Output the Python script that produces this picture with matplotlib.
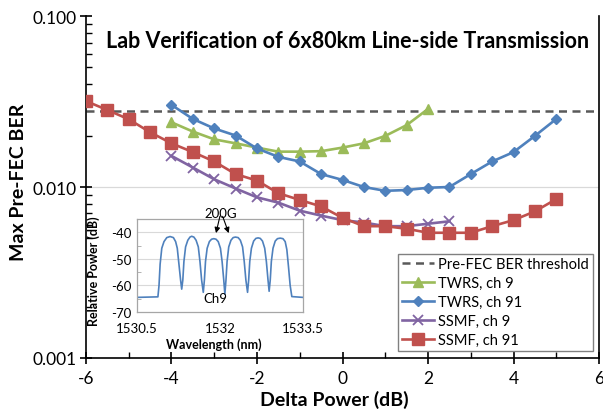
import matplotlib
matplotlib.use("Agg")
import matplotlib.pyplot as plt
from matplotlib.ticker import FixedLocator, NullFormatter, LogLocator, MultipleLocator

plt.rcParams['font.family'] = ['Lato', 'DejaVu Sans']

# ---------------- data ----------------
threshold = 0.028

twrs9_x = [-4, -3.5, -3, -2.5, -2, -1.5, -1, -0.5, 0, 0.5, 1, 1.5, 2]
twrs9_y = [0.0239, 0.0211, 0.0190, 0.0180, 0.0170, 0.0161, 0.0161, 0.0162, 0.0170,
           0.0180, 0.0199, 0.0230, 0.0286]

twrs91_x = [-4, -3.5, -3, -2.5, -2, -1.5, -1, -0.5, 0, 0.5, 1, 1.5, 2, 2.5, 3, 3.5, 4, 4.5, 5]
twrs91_y = [0.0302, 0.0250, 0.0220, 0.0200, 0.0168, 0.0150, 0.0141, 0.0119, 0.0110,
            0.0100, 0.0095, 0.0096, 0.0099, 0.0100, 0.0119, 0.0141, 0.0160, 0.0199, 0.0250]

ssmf9_x = [-4, -3.5, -3, -2.5, -2, -1.5, -1, -0.5, 0, 0.5, 1, 1.5, 2, 2.5]
ssmf9_y = [0.0152, 0.0130, 0.0111, 0.0098, 0.0087, 0.0081, 0.00727, 0.0068, 0.0064,
           0.0062, 0.0059, 0.0059, 0.0061, 0.0063]

ssmf91_x = [-6, -5.5, -5, -4.5, -4, -3.5, -3, -2.5, -2, -1.5, -1, -0.5, 0, 0.5, 1, 1.5,
            2, 2.5, 3, 3.5, 4, 4.5, 5]
ssmf91_y = [0.0318, 0.0282, 0.0249, 0.0209, 0.0180, 0.0160, 0.0141, 0.0119, 0.0109,
            0.0092, 0.0084, 0.0077, 0.0066, 0.0059, 0.0059, 0.0057, 0.0054, 0.0054,
            0.0054, 0.0059, 0.0064, 0.0072, 0.0085]

series_labels = ["TWRS, ch 9", "TWRS, ch 91", "SSMF, ch 9", "SSMF, ch 91"]
threshold_label = "Pre-FEC BER threshold"

x_ticks = [-6, -4, -2, 0, 2, 4, 6]
y_ticks = [0.001, 0.01, 0.1]
y_ticklabels = ["0.001", "0.010", "0.100"]

# inset spectrum
spec_wl = [1530.50, 1530.88, 1530.90, 1530.92, 1530.95, 1530.99, 1531.04, 1531.10, 1531.16,
           1531.20, 1531.23, 1531.26, 1531.29, 1531.31,
           1531.33, 1531.35, 1531.38, 1531.42, 1531.46, 1531.49, 1531.53, 1531.57, 1531.61,
           1531.64, 1531.67, 1531.70,
           1531.72, 1531.74, 1531.77, 1531.81, 1531.85, 1531.89, 1531.93, 1531.97, 1532.01,
           1532.04, 1532.07, 1532.09,
           1532.11, 1532.13, 1532.16, 1532.20, 1532.24, 1532.28, 1532.33, 1532.37, 1532.41,
           1532.44, 1532.47, 1532.50,
           1532.52, 1532.54, 1532.57, 1532.61, 1532.65, 1532.69, 1532.73, 1532.77, 1532.81,
           1532.84, 1532.87, 1532.89,
           1532.91, 1532.93, 1532.96, 1533.00, 1533.04, 1533.09, 1533.14, 1533.18, 1533.21,
           1533.24, 1533.27, 1533.30, 1533.50]
spec_p = [-64.5, -64.3, -60, -52, -46, -43.5, -42, -41.6, -42,
          -43.5, -46, -52, -58, -61.4,
          -58, -51, -45.5, -43, -41.8, -41.5, -41.8, -43, -45.5,
          -51, -58, -62.6,
          -58, -51, -46, -43.5, -42.6, -42.4, -42.6, -43.5, -46,
          -51, -58, -63.3,
          -58, -51, -45.5, -43, -42, -41.8, -42, -43, -45.5,
          -51, -58, -62.6,
          -58, -51, -46, -43.3, -42.3, -42.1, -42.3, -43.3, -46,
          -51, -58, -62.2,
          -58, -51, -46, -43.3, -42.4, -42.2, -42.4, -43.5, -46.5,
          -53, -60, -64.2, -64.5]

inset_xticks = [1530.5, 1532, 1533.5]
inset_xticklabels = ["1530.5", "1532", "1533.5"]
inset_yticks = [-70, -60, -50, -40]

# ---------------- figure ----------------
fig = plt.figure(figsize=(6.03, 4.10), dpi=100)
ax = fig.add_axes([0.1426, 0.1244, 0.8508, 0.8341])

ax.set_yscale('log')
ax.set_xlim(-6, 6)
ax.set_ylim(0.001, 0.1)

ax.grid(False)
ax.axhline(0.01, color='#D9D9D9', lw=0.9, zorder=0)

ax.axhline(threshold, color='#595959', lw=1.8, ls=(0, (3.2, 2.2)), zorder=2,
           label=threshold_label)

colors = ['#9BBB59', '#4F81BD', '#8064A2', '#C0504D']
markers = ['^', 'D', 'x', 's']
msizes = [7, 5.5, 6.5, 8]
xs = [twrs9_x, twrs91_x, ssmf9_x, ssmf91_x]
ys = [twrs9_y, twrs91_y, ssmf9_y, ssmf91_y]
for x, y, c, m, ms, lab in zip(xs, ys, colors, markers, msizes, series_labels):
    kw = dict(color=c, lw=1.9, marker=m, markersize=ms, label=lab, zorder=3)
    if m == 'x':
        kw.update(markeredgewidth=1.3)
    else:
        kw.update(markeredgecolor=c, markerfacecolor=c)
    ax.plot(x, y, **kw)

ax.spines['top'].set_visible(False)
for s in ['left', 'bottom', 'right']:
    ax.spines[s].set_color('black')
    ax.spines[s].set_linewidth(1.2)

ax.xaxis.set_major_locator(FixedLocator(x_ticks))
ax.xaxis.set_minor_locator(MultipleLocator(1))
ax.set_xticklabels([str(v) for v in x_ticks])
ax.yaxis.set_major_locator(FixedLocator(y_ticks))
ax.set_yticklabels(y_ticklabels)
ax.yaxis.set_minor_locator(LogLocator(base=10, subs=range(2, 10)))
ax.yaxis.set_minor_formatter(NullFormatter())

ax.tick_params(axis='both', which='major', direction='inout', length=8, width=1.2,
               labelsize=12.5, color='black')
ax.tick_params(axis='x', which='major', pad=5)
ax.tick_params(axis='y', which='major', pad=3)
ax.tick_params(axis='both', which='minor', direction='in', length=4, width=1.0, color='black')
ax.tick_params(axis='y', which='both', right=False)

ax.set_ylabel("Max Pre-FEC BER", fontsize=14, fontweight='bold')
ax.yaxis.set_label_coords(-0.115, 0.5175)
ax.set_xlabel("Delta Power (dB)", fontsize=14, fontweight='bold')
ax.xaxis.set_label_coords(0.485, -0.147)
ax.xaxis.label.set_va('bottom')

ax.text(0.51, 0.927, "Lab Verification of 6x80km Line-side Transmission",
        transform=ax.transAxes, ha='center', va='center', fontsize=15.5, fontweight='bold')

handles, labels = ax.get_legend_handles_labels()
leg = ax.legend(handles, labels, loc='lower right', bbox_to_anchor=(0.988, 0.0205),
                fontsize=10.6, frameon=True, fancybox=False, edgecolor='#808080',
                framealpha=1, handlelength=2.2, labelspacing=0.34, borderpad=0.25,
                handletextpad=0.3, borderaxespad=0)
leg.get_frame().set_linewidth(1.0)

# ---------------- inset ----------------
ins = fig.add_axes([0.227, 0.2366, 0.2753, 0.2268])
ins.plot(spec_wl, spec_p, color='#4F81BD', lw=1.2)
ins.set_xlim(1530.5, 1533.5)
ins.set_ylim(-70, -35)
for yv in [-60, -50, -40]:
    ins.axhline(yv, color='#D9D9D9', lw=0.8, zorder=0)
for s in ins.spines.values():
    s.set_color('#A6A6A6')
    s.set_linewidth(0.9)
ins.set_xticks(inset_xticks)
ins.set_xticklabels(inset_xticklabels)
ins.set_yticks(inset_yticks)
ins.set_yticklabels([str(v) for v in inset_yticks])
ins.yaxis.set_minor_locator(MultipleLocator(5))
ins.tick_params(axis='both', which='major', length=0, labelsize=9.5, pad=4)
ins.tick_params(axis='x', which='major', pad=7)
ins.tick_params(axis='y', which='minor', direction='in', length=3, color='#A6A6A6')
ins.set_ylabel("Relative Power (dB)", fontsize=9, fontweight='bold')
ins.yaxis.set_label_coords(-0.223, 0.45)
ins.set_xlabel("Wavelength (nm)", fontsize=9, fontweight='bold')
ins.xaxis.set_label_coords(0.464, -0.344)
ins.xaxis.label.set_va('center')

ins.text(1532.02, -32.6, "200G", ha='center', va='center', fontsize=9.5, clip_on=False)
for tx in [1531.93, 1532.16]:
    ins.annotate("", xy=(tx, -40.3), xytext=(1532.0 if tx < 1532 else 1532.05, -34.0),
                 arrowprops=dict(arrowstyle='-|>', color='black', lw=0.8,
                                 mutation_scale=8, shrinkA=0, shrinkB=0),
                 annotation_clip=False)
ins.text(1531.91, -64.8, "Ch9", ha='center', va='center', fontsize=9.5)

fig.savefig("out.png", dpi=100)
